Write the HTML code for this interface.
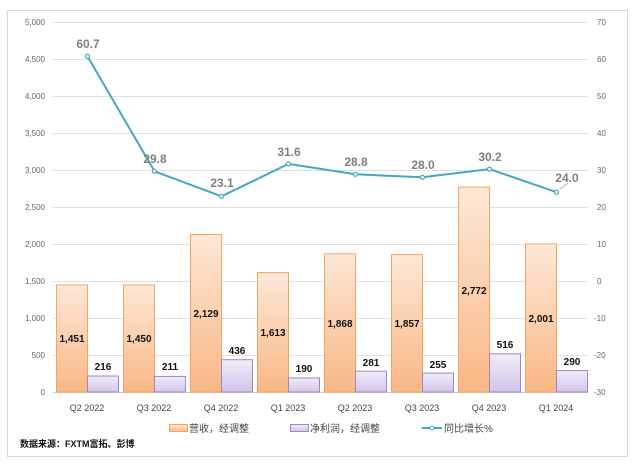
<!DOCTYPE html>
<html><head><meta charset="utf-8"><style>
body{margin:0;background:#fff}
text{font-family:"Liberation Sans","Noto Sans CJK SC",sans-serif}
</style></head><body>
<svg width="635" height="465" xmlns="http://www.w3.org/2000/svg">
<defs>
<linearGradient id="go" x1="0" y1="0" x2="0" y2="1"><stop offset="0" stop-color="#fde8d8"/><stop offset="1" stop-color="#f9b784"/></linearGradient>
<linearGradient id="gp" x1="0" y1="0" x2="0" y2="1"><stop offset="0" stop-color="#f1ecf8"/><stop offset="1" stop-color="#d3c4ea"/></linearGradient>
</defs>
<rect x="7.5" y="10.5" width="620" height="446" fill="#fff" stroke="#d9d9d9"/>
<g stroke="#e0e0e0" stroke-width="1">
<line x1="53" x2="588" y1="22.5" y2="22.5"/><line x1="53" x2="588" y1="59.5" y2="59.5"/><line x1="53" x2="588" y1="96.5" y2="96.5"/><line x1="53" x2="588" y1="133.5" y2="133.5"/><line x1="53" x2="588" y1="170.5" y2="170.5"/><line x1="53" x2="588" y1="207.5" y2="207.5"/><line x1="53" x2="588" y1="244.5" y2="244.5"/><line x1="53" x2="588" y1="281.5" y2="281.5"/><line x1="53" x2="588" y1="318.5" y2="318.5"/><line x1="53" x2="588" y1="355.5" y2="355.5"/><line x1="53" x2="588" y1="392.5" y2="392.5" stroke="#d0d0d0"/>
</g>
<g font-size="8" fill="#666" text-anchor="end">
<text x="45" y="25">5,000</text><text x="45" y="62">4,500</text><text x="45" y="99">4,000</text><text x="45" y="136">3,500</text><text x="45" y="173">3,000</text><text x="45" y="210">2,500</text><text x="45" y="247">2,000</text><text x="45" y="284">1,500</text><text x="45" y="321">1,000</text><text x="45" y="358">500</text><text x="45" y="395">0</text>
</g>
<g font-size="8" fill="#666">
<text x="597" y="25">70</text><text x="597" y="62">60</text><text x="597" y="99">50</text><text x="597" y="136">40</text><text x="597" y="173">30</text><text x="597" y="210">20</text><text x="597" y="247">10</text><text x="597" y="284">0</text><text x="594" y="321">-10</text><text x="594" y="358">-20</text><text x="594" y="395">-30</text>
</g>
<g stroke="#f4a464" fill="url(#go)">
<rect x="56.5" y="285" width="31" height="107"/>
<rect x="123.5" y="285" width="31" height="107"/>
<rect x="190.5" y="234.5" width="31" height="157.5"/>
<rect x="257.5" y="272.6" width="31" height="119.4"/>
<rect x="324.5" y="253.8" width="31" height="138.2"/>
<rect x="391.5" y="254.6" width="31" height="137.4"/>
<rect x="458.5" y="187" width="31" height="205"/>
<rect x="525.5" y="243.9" width="31" height="148.1"/>
</g>
<g stroke="#9f86c6" fill="url(#gp)">
<rect x="87.5" y="376" width="31" height="16"/>
<rect x="154.5" y="376.4" width="31" height="15.6"/>
<rect x="221.5" y="359.7" width="31" height="32.3"/>
<rect x="288.5" y="378" width="31" height="14"/>
<rect x="355.5" y="371.2" width="31" height="20.8"/>
<rect x="422.5" y="373.1" width="31" height="18.9"/>
<rect x="489.5" y="353.8" width="31" height="38.2"/>
<rect x="556.5" y="370.5" width="31" height="21.5"/>
</g>
<g font-size="10" font-weight="bold" fill="#111" text-anchor="middle">
<text x="72" y="342">1,451</text><text x="139" y="342">1,450</text><text x="206" y="317">2,129</text><text x="273" y="336">1,613</text><text x="340" y="327">1,868</text><text x="407" y="327">1,857</text><text x="474" y="294">2,772</text><text x="541" y="322">2,001</text>
<text x="103" y="370">216</text><text x="170" y="370">211</text><text x="237" y="354">436</text><text x="304" y="372">190</text><text x="371" y="366">281</text><text x="438" y="368">255</text><text x="505" y="348">516</text><text x="572" y="365">290</text>
</g>
<polyline fill="none" stroke="#45a7c0" stroke-width="2" points="87.5,56.4 154.5,171.3 221.5,196.3 288.5,163.9 355.5,174.3 422.5,177.3 489.5,169.1 556.5,192.2"/>
<line x1="560" y1="189" x2="568" y2="183" stroke="#aaa" stroke-width="0.8"/>
<g fill="#fff" stroke="#45a7c0" stroke-width="1.2">
<circle cx="87.5" cy="56.4" r="2"/><circle cx="154.5" cy="171.3" r="2"/><circle cx="221.5" cy="196.3" r="2"/><circle cx="288.5" cy="163.9" r="2"/><circle cx="355.5" cy="174.3" r="2"/><circle cx="422.5" cy="177.3" r="2"/><circle cx="489.5" cy="169.1" r="2"/><circle cx="556.5" cy="192.2" r="2"/>
</g>
<g font-size="12" font-weight="bold" fill="#7f7f7f" text-anchor="middle">
<text x="88" y="48">60.7</text><text x="155" y="163">29.8</text><text x="222" y="187">23.1</text><text x="289" y="156">31.6</text><text x="356" y="166">28.8</text><text x="423" y="169">28.0</text><text x="490" y="161">30.2</text><text x="567" y="182">24.0</text>
</g>
<g font-size="9" fill="#444" text-anchor="middle">
<text x="87" y="411">Q2 2022</text><text x="154" y="411">Q3 2022</text><text x="221" y="411">Q4 2022</text><text x="288" y="411">Q1 2023</text><text x="355" y="411">Q2 2023</text><text x="422" y="411">Q3 2023</text><text x="489" y="411">Q4 2023</text><text x="556" y="411">Q1 2024</text>
</g>
<rect x="169.5" y="424.5" width="18" height="7" fill="url(#go)" stroke="#f4a464"/>
<text x="189" y="432" font-size="10" fill="#444">营收，经调整</text>
<rect x="290.5" y="424.5" width="18" height="7" fill="url(#gp)" stroke="#9f86c6"/>
<text x="310" y="432" font-size="10" fill="#444">净利润，经调整</text>
<line x1="422" y1="428" x2="442" y2="428" stroke="#45a7c0" stroke-width="2"/>
<circle cx="432" cy="428" r="2" fill="#fff" stroke="#45a7c0"/>
<text x="444" y="432" font-size="10" fill="#444">同比增长%</text>
<text x="20" y="447" font-size="9" font-weight="bold" fill="#111">数据来源：FXTM富拓、彭博</text>
</svg>
</body></html>
